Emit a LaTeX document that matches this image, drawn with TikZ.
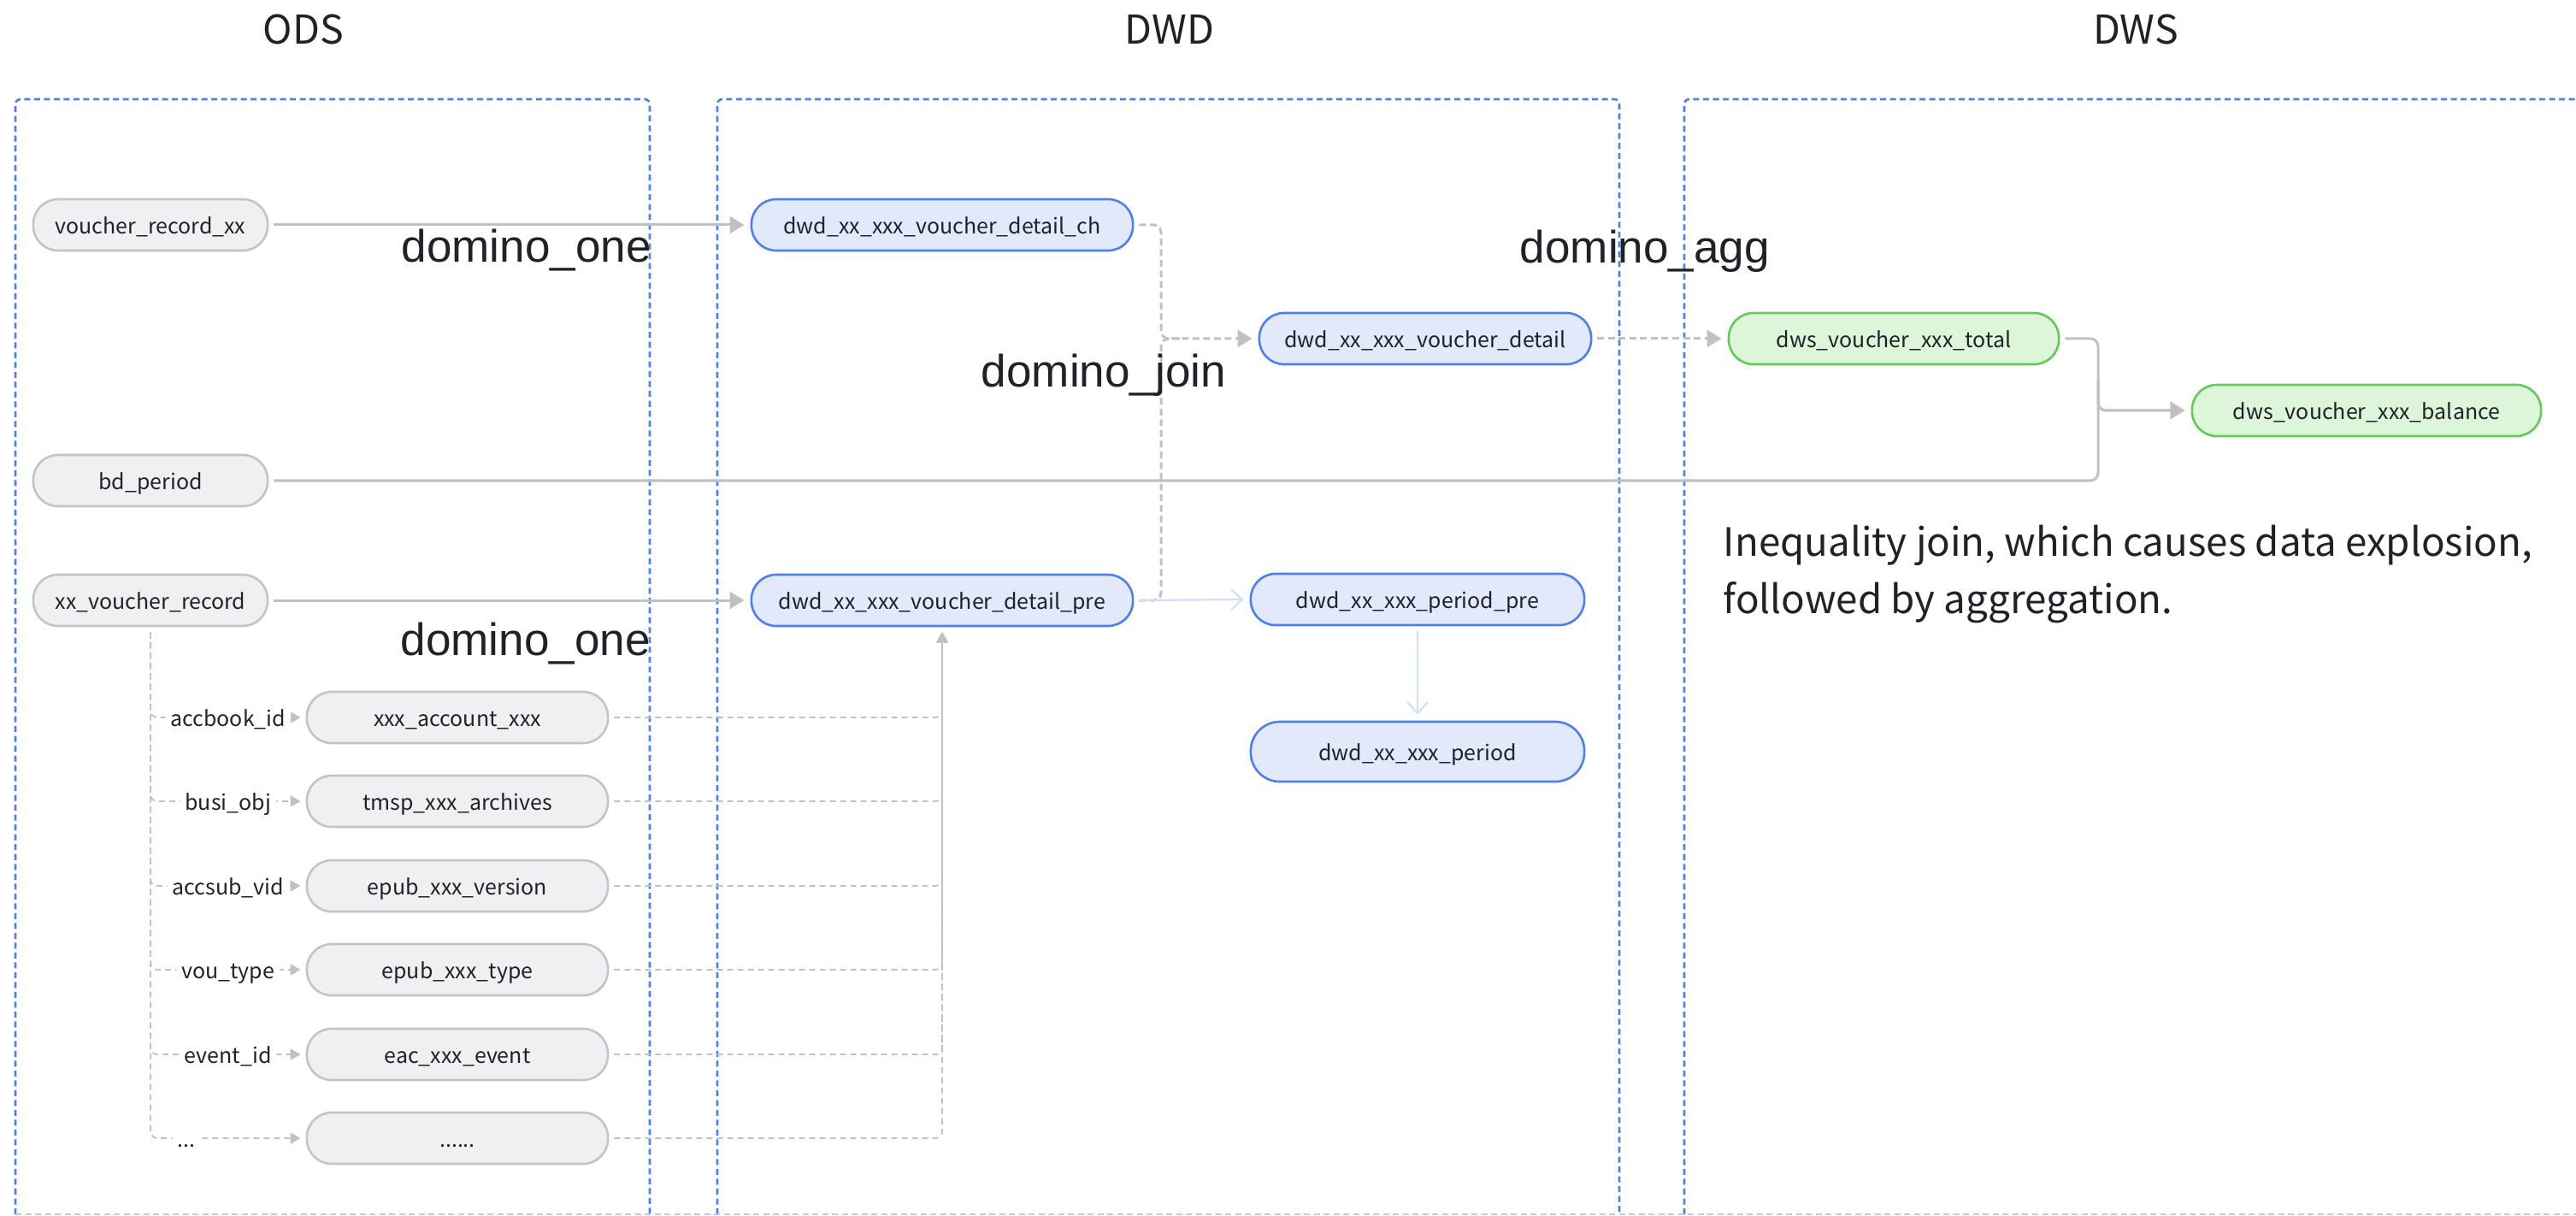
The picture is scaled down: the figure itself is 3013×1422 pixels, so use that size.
\documentclass[tikz,border=0pt]{standalone}
\usepackage{fontspec}
\newfontfamily\nf{Noto Sans CJK SC}
\newfontfamily\af{Liberation Sans}
\usetikzlibrary{arrows.meta}
\definecolor{txt}{HTML}{1F2329}
\definecolor{gfill}{HTML}{EFF0F1}
\definecolor{gline}{HTML}{C3C4C7}
\definecolor{bfill}{HTML}{E1E9FB}
\definecolor{bline}{HTML}{4E7FEE}
\definecolor{grfill}{HTML}{DDF5D8}
\definecolor{grline}{HTML}{62C95B}
\definecolor{conn}{HTML}{C0C1C5}
\definecolor{lblue}{HTML}{D3DFF9}
\definecolor{frm}{HTML}{4F80F0}
\definecolor{frmlight}{HTML}{B7CBF6}
\tikzset{
  base/.style={rectangle, rounded corners=0.29cm, minimum height=0.6cm, inner sep=0pt,
    line width=0.026cm, font=\nf\fontsize{7.1}{8.5}\selectfont, text=txt,
    text height=0.2cm, text depth=0cm},
  gnode/.style={base, draw=gline, fill=gfill},
  bnode/.style={base, draw=bline, fill=bfill},
  grnode/.style={base, draw=grline, fill=grfill},
  lab/.style={fill=white, font=\nf\fontsize{7.1}{8.5}\selectfont, text=txt,
    inner xsep=0.06cm, inner ysep=0.02cm, text height=0.2cm, text depth=0cm},
  title/.style={font=\nf\fontsize{13.2}{16}\selectfont, text=txt, inner sep=0pt, anchor=base},
  note/.style={font=\nf\fontsize{13}{16}\selectfont, text=txt, inner sep=0pt, anchor=base west},
  dom/.style={font=\af\fontsize{15.1}{18}\selectfont, text=txt, inner sep=0pt, anchor=base west},
  frame/.style={draw=frm, line width=0.026cm, dash pattern=on 0.07cm off 0.045cm, rounded corners=0.06cm},
  sconn/.style={draw=conn, line width=0.03cm, -{Triangle[length=0.17cm,width=0.2cm]},
    shorten <=0.06cm, shorten >=0.07cm, rounded corners=0.09cm},
  dline/.style={draw=conn, line width=0.03cm, dash pattern=on 0.08cm off 0.045cm,
    shorten <=0.06cm, rounded corners=0.09cm},
  dconn/.style={dline, -{Triangle[length=0.17cm,width=0.2cm]}, shorten >=0.07cm},
  tconn/.style={draw=conn, line width=0.018cm, dash pattern=on 0.07cm off 0.05cm,
    -{Triangle[length=0.12cm,width=0.13cm]}, shorten <=0.06cm, shorten >=0.06cm, rounded corners=0.08cm},
  lbconn/.style={draw=lblue, line width=0.022cm, -{Straight Barb[length=0.13cm,width=0.24cm]},
    shorten <=0.06cm, shorten >=0.07cm}
}
\begin{document}
\begin{tikzpicture}[x=0.01cm,y=-0.01cm]
\useasboundingbox (0,0) rectangle (3013,1422);
\clip (0,0) rectangle (3013,1422);

% layer frames
\draw[frame] (18,1420) -- (18,116) -- (760,116) -- (760,1420);
\draw[frame] (839,1420) -- (839,116) -- (1894,116) -- (1894,1420);
\draw[frame] (1970,1420) -- (1970,116) -- (3026,116) -- (3026,1420);
\draw[draw=frmlight, line width=0.02cm, dash pattern=on 0.07cm off 0.045cm] (18,1420) -- (3013,1420);

% titles
\node[title] (tods) at (355,52) {ODS};
\node[title] (tdwd) at (1368,52) {DWD};
\node[title] (tdws) at (2498,52) {DWS};

% ODS nodes
\node[gnode, minimum width=2.74cm] (vrx) at (176,263) {voucher\_record\_xx};
\node[gnode, minimum width=2.74cm] (bdp) at (176,562) {bd\_period};
\node[gnode, minimum width=2.74cm] (xvr) at (176,702) {xx\_voucher\_record};
\node[gnode, minimum width=3.52cm] (acc) at (535,839) {xxx\_account\_xxx};
\node[gnode, minimum width=3.52cm] (tms) at (535,937) {tmsp\_xxx\_archives};
\node[gnode, minimum width=3.52cm] (ver) at (535,1036) {epub\_xxx\_version};
\node[gnode, minimum width=3.52cm] (typ) at (535,1134) {epub\_xxx\_type};
\node[gnode, minimum width=3.52cm] (evt) at (535,1233) {eac\_xxx\_event};
\node[gnode, minimum width=3.52cm] (dts) at (535,1331) {......};

% DWD nodes
\node[bnode, minimum width=4.46cm] (ch) at (1102,263) {dwd\_xx\_xxx\_voucher\_detail\_ch};
\node[bnode, minimum width=4.46cm] (pre) at (1102,702) {dwd\_xx\_xxx\_voucher\_detail\_pre};
\node[bnode, minimum width=3.88cm] (det) at (1667,396) {dwd\_xx\_xxx\_voucher\_detail};
\node[bnode, minimum width=3.90cm] (ppre) at (1658,701) {dwd\_xx\_xxx\_period\_pre};
\node[bnode, minimum width=3.90cm, minimum height=0.7cm, rounded corners=0.34cm] (per) at (1658,879) {dwd\_xx\_xxx\_period};

% DWS nodes
\node[grnode, minimum width=3.86cm] (tot) at (2215,396) {dws\_voucher\_xxx\_total};
\node[grnode, minimum width=4.08cm] (bal) at (2768,480) {dws\_voucher\_xxx\_balance};

% junction points
\coordinate (jd) at (1358,330);
\coordinate (jdl) at (1358,500);
\coordinate (jdm) at (1380,396);
\coordinate (jb) at (2454,440);

% connectors
\draw[sconn] (vrx.east) -- (ch.west);
\draw[sconn] (xvr.east) -- (pre.west);
\draw[dconn] (ch.east) -| (jd) |- (det.west);
\draw[dline] (pre.east) -| (jdl) |- (jdm);
\draw[dconn] (det.east) -- (tot.west);
\draw[sconn] (tot.east) -| (jb) |- (bal.west);
\draw[sconn] (bdp.east) -| (jb) |- (bal.west);
\draw[lbconn] (pre.east) -- (ppre.west);
\draw[lbconn] (ppre.south) -- (per.north);

% lookup branches
\foreach \n in {acc,tms,ver,typ,evt,dts}
  \draw[tconn] (\n.east) -| (pre.south);
\draw[tconn] (xvr.south) |- node[lab, pos=0.75] (lacc) {accbook\_id} (acc.west);
\draw[tconn] (xvr.south) |- node[lab, pos=0.75] (ltms) {busi\_obj} (tms.west);
\draw[tconn] (xvr.south) |- node[lab, pos=0.75] (lver) {accsub\_vid} (ver.west);
\draw[tconn] (xvr.south) |- node[lab, pos=0.75] (ltyp) {vou\_type} (typ.west);
\draw[tconn] (xvr.south) |- node[lab, pos=0.75] (levt) {event\_id} (evt.west);
\draw[tconn] (xvr.south) |- node[lab, pos=0.615] (ldts) {...} (dts.west);

% domino labels
\node[dom] (d1) at (469,307) {domino\_one};
\node[dom] (d2) at (468,766) {domino\_one};
\node[dom] (d3) at (1147,453) {domino\_join};
\node[dom] (d4) at (1777,308) {domino\_agg};

% note
\node[note] (n1) at (2015,650) {Inequality join, which causes data explosion,};
\node[note] (n2) at (2015,717) {followed by aggregation.};
\end{tikzpicture}
\end{document}
